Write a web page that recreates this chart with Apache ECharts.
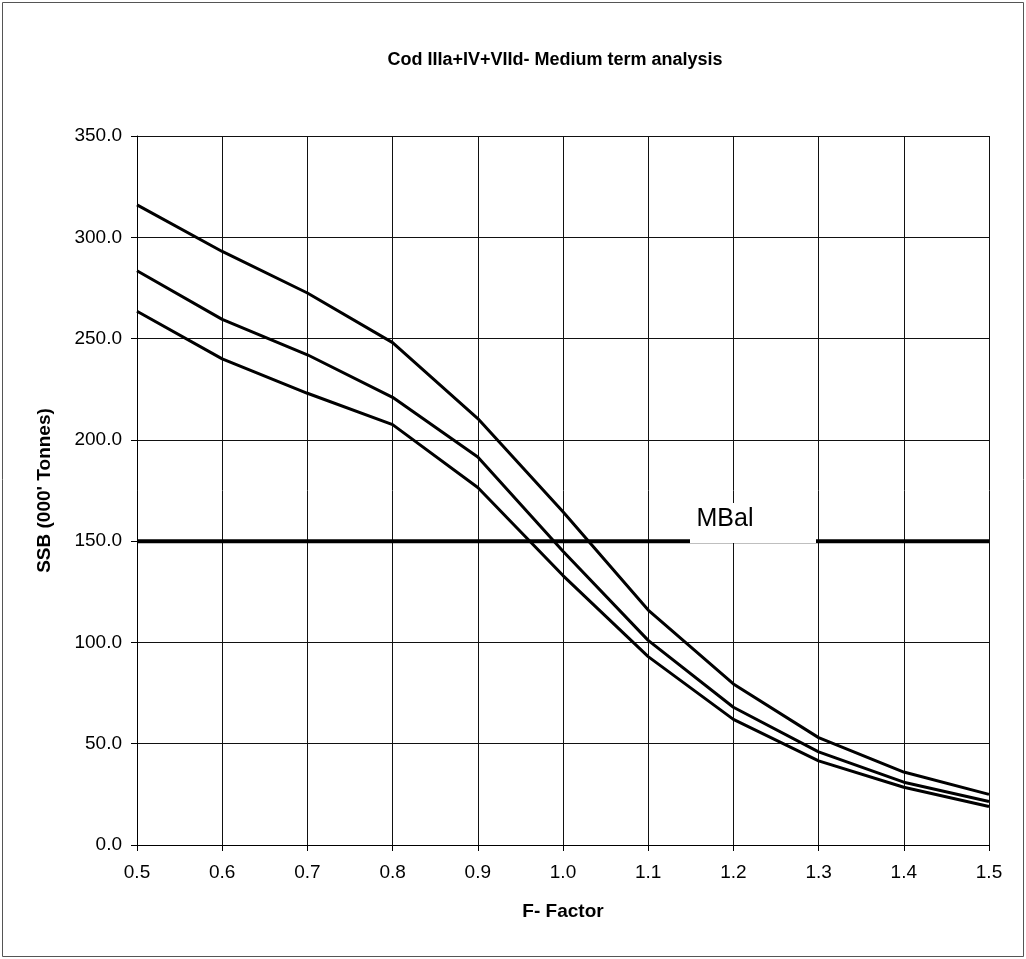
<!DOCTYPE html>
<html>
<head>
<meta charset="utf-8">
<title>Cod IIIa+IV+VIId- Medium term analysis</title>
<script src="https://cdn.jsdelivr.net/npm/echarts@6/dist/echarts.min.js"></script>
<style>
  html, body { margin: 0; padding: 0; background: #fff; }
  #chart { width: 1026px; height: 959px; }
</style>
</head>
<body>
<div id="chart"></div>
<script>
// F-factor multipliers on the x axis
const fFactors = [0.5, 0.6, 0.7, 0.8, 0.9, 1.0, 1.1, 1.2, 1.3, 1.4, 1.5];

// SSB projections ('000 tonnes) for the three scenarios
const ssbHigh = [316, 293, 272.5, 248, 210.5, 164.5, 116, 79.5, 53, 36, 25];
const ssbMid  = [283.5, 259.5, 242, 221, 191.5, 145, 101, 68, 46, 31, 21.5];
const ssbLow  = [263.5, 240, 223, 207.5, 176.5, 133, 93, 62, 41.5, 28.5, 19];

// Biological reference level
const mbalValue = 150;
const mbalLabel = 'MBal';

const titleText = 'Cod IIIa+IV+VIId- Medium term analysis';
const xName = 'F- Factor';
const yName = "SSB (000' Tonnes)";

const FONT = '"Liberation Sans", Arial, sans-serif';

const pairs = arr => fFactors.map((f, i) => [f, arr[i]]);

const curveStyle = { color: '#000', width: 3 };

const chart = echarts.init(document.getElementById('chart'), null, { renderer: 'canvas' });

chart.setOption({
  backgroundColor: '#fff',
  animation: false,
  textStyle: { fontFamily: FONT, color: '#000' },
  graphic: [
    {
      type: 'rect',
      shape: { x: 2.5, y: 2.5, width: 1021, height: 954 },
      style: { fill: 'none', stroke: '#555', lineWidth: 1 },
      silent: true
    },
    {
      type: 'text',
      x: 555, y: 60,
      style: {
        text: titleText,
        fontFamily: FONT,
        fontSize: 18,
        fontWeight: 'bold',
        fill: '#000',
        textAlign: 'center',
        textVerticalAlign: 'middle'
      }
    }
  ],
  grid: { left: 137, right: 37, top: 136, bottom: 114 },
  xAxis: {
    type: 'value',
    min: 0.5,
    max: 1.5,
    interval: 0.1,
    name: xName,
    nameLocation: 'middle',
    nameGap: 57,
    nameTextStyle: { fontFamily: FONT, fontSize: 19, fontWeight: 'bold', color: '#000' },
    axisLine: { show: true, onZero: false, lineStyle: { color: '#000', width: 1 } },
    axisTick: { show: true, inside: false, length: 6, lineStyle: { color: '#000' } },
    axisLabel: {
      margin: 18,
      fontFamily: FONT,
      fontSize: 19,
      color: '#000',
      formatter: v => v.toFixed(1)
    },
    splitLine: { show: true, lineStyle: { color: '#111', width: 1 } }
  },
  yAxis: {
    type: 'value',
    min: 0,
    max: 350,
    interval: 50,
    name: yName,
    nameLocation: 'middle',
    nameGap: 83,
    nameTextStyle: { fontFamily: FONT, fontSize: 19, fontWeight: 'bold', color: '#000' },
    axisLine: { show: true, lineStyle: { color: '#000', width: 1 } },
    axisTick: { show: true, inside: false, length: 6, lineStyle: { color: '#000' } },
    axisLabel: {
      margin: 15,
      fontFamily: FONT,
      fontSize: 19,
      color: '#000',
      formatter: v => v.toFixed(1)
    },
    splitLine: { show: true, lineStyle: { color: '#111', width: 1 } }
  },
  series: [
    {
      name: 'High',
      type: 'line',
      data: pairs(ssbHigh),
      symbol: 'none',
      lineStyle: curveStyle,
      z: 3
    },
    {
      name: 'Mid',
      type: 'line',
      data: pairs(ssbMid),
      symbol: 'none',
      lineStyle: curveStyle,
      z: 3
    },
    {
      name: 'Low',
      type: 'line',
      data: pairs(ssbLow),
      symbol: 'none',
      lineStyle: curveStyle,
      z: 3
    },
    {
      name: mbalLabel,
      type: 'line',
      data: [[fFactors[0], mbalValue], [fFactors[fFactors.length - 1], mbalValue]],
      symbol: 'none',
      lineStyle: { color: '#000', width: 4 },
      z: 4,
      markPoint: {
        silent: true,
        symbol: 'rect',
        symbolSize: [126, 40],
        itemStyle: { color: '#fff' },
        label: {
          show: true,
          formatter: mbalLabel,
          fontFamily: FONT,
          fontSize: 25,
          color: '#000',
          offset: [-28, -4]
        },
        data: [{ coord: [1.223, mbalValue + 8.9] }]
      }
    }
  ]
});
</script>
</body>
</html>
